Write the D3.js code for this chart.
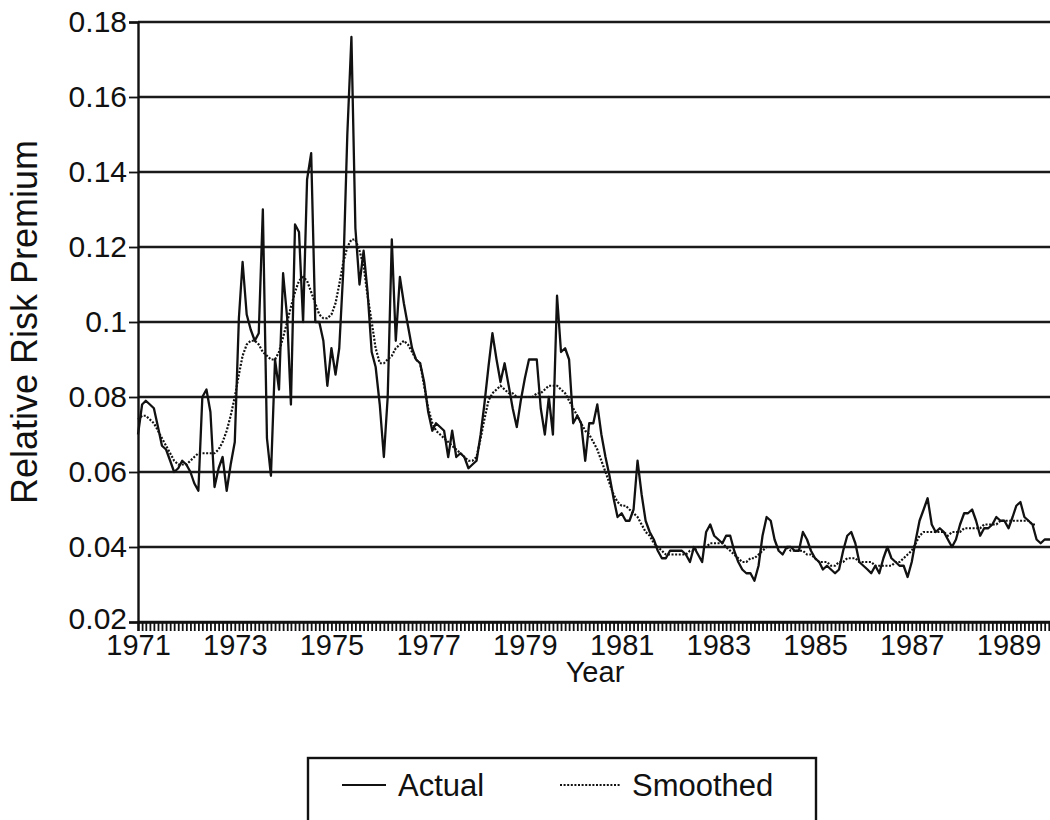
<!DOCTYPE html>
<html>
<head>
<meta charset="utf-8">
<script src="https://cdn.jsdelivr.net/npm/d3@7"></script>
<style>
  body { margin: 0; background: #fff; }
  text { font-family: "Liberation Sans", Arial, sans-serif; fill: #111; }
</style>
</head>
<body>
<script>

// monthly values, Jan 1971 onwards
var startYear = 1971;

var actual = [
  0.070, 0.078, 0.079, 0.078, 0.077, 0.072, 0.067, 0.066, 0.063, 0.060, 0.061, 0.063,
  0.062, 0.060, 0.057, 0.055, 0.080, 0.082, 0.076, 0.056, 0.061, 0.064, 0.055, 0.062,
  0.068, 0.101, 0.116, 0.102, 0.098, 0.095, 0.097, 0.130, 0.069, 0.059, 0.090, 0.082,
  0.113, 0.101, 0.078, 0.126, 0.124, 0.100, 0.138, 0.145, 0.100, 0.100, 0.095, 0.083,
  0.093, 0.086, 0.093, 0.114, 0.150, 0.176, 0.125, 0.110, 0.119, 0.108, 0.092, 0.088,
  0.078, 0.064, 0.080, 0.122, 0.095, 0.112, 0.105, 0.099, 0.093, 0.090, 0.089, 0.084,
  0.076, 0.071, 0.073, 0.072, 0.071, 0.064, 0.071, 0.064, 0.065, 0.064, 0.061, 0.062,
  0.063, 0.070, 0.078, 0.088, 0.097, 0.090, 0.084, 0.089, 0.083, 0.077, 0.072, 0.079,
  0.085, 0.090, 0.090, 0.090, 0.077, 0.070, 0.080, 0.070, 0.107, 0.092, 0.093, 0.090,
  0.073, 0.075, 0.073, 0.063, 0.073, 0.073, 0.078, 0.070, 0.064, 0.059, 0.053, 0.048,
  0.049, 0.047, 0.047, 0.050, 0.063, 0.054, 0.047, 0.044, 0.042, 0.039, 0.037, 0.037,
  0.039, 0.039, 0.039, 0.039, 0.038, 0.036, 0.040, 0.038, 0.036, 0.044, 0.046, 0.043,
  0.042, 0.041, 0.043, 0.043, 0.039, 0.036, 0.034, 0.033, 0.033, 0.031, 0.035, 0.043,
  0.048, 0.047, 0.042, 0.039, 0.038, 0.040, 0.040, 0.039, 0.039, 0.044, 0.042, 0.039,
  0.037, 0.036, 0.034, 0.035, 0.034, 0.033, 0.034, 0.039, 0.043, 0.044, 0.041, 0.036,
  0.035, 0.034, 0.033, 0.035, 0.033, 0.037, 0.040, 0.037, 0.036, 0.035, 0.035, 0.032,
  0.036, 0.042, 0.047, 0.050, 0.053, 0.046, 0.044, 0.045, 0.044, 0.042, 0.040, 0.042,
  0.046, 0.049, 0.049, 0.050, 0.047, 0.043, 0.045, 0.045, 0.046, 0.048, 0.047, 0.047,
  0.045, 0.048, 0.051, 0.052, 0.048, 0.047, 0.046, 0.042, 0.041, 0.042, 0.042, 0.042
];

var smoothed = [
  0.074, 0.075, 0.075, 0.074, 0.073, 0.071, 0.069, 0.067, 0.065, 0.063, 0.062, 0.062,
  0.062, 0.063, 0.064, 0.065, 0.065, 0.065, 0.065, 0.065, 0.066, 0.068, 0.071, 0.075,
  0.080, 0.086, 0.091, 0.094, 0.095, 0.095, 0.094, 0.092, 0.091, 0.090, 0.090, 0.092,
  0.096, 0.100, 0.104, 0.108, 0.111, 0.112, 0.111, 0.108, 0.105, 0.102, 0.101, 0.101,
  0.102, 0.105, 0.110, 0.116, 0.120, 0.122, 0.122, 0.119, 0.115, 0.107, 0.100, 0.093,
  0.089, 0.089, 0.090, 0.091, 0.093, 0.094, 0.095, 0.094, 0.092, 0.090, 0.089, 0.083,
  0.077, 0.073, 0.071, 0.070, 0.069, 0.068, 0.067, 0.066, 0.065, 0.064, 0.063, 0.063,
  0.064, 0.069, 0.074, 0.079, 0.081, 0.082, 0.083, 0.082, 0.081, 0.081, 0.080, 0.080,
  0.080, 0.080, 0.080, 0.081, 0.081, 0.082, 0.083, 0.083, 0.083, 0.082, 0.081, 0.079,
  0.077, 0.075, 0.073, 0.071, 0.070, 0.068, 0.066, 0.063, 0.060, 0.057, 0.054, 0.052,
  0.051, 0.051, 0.050, 0.049, 0.048, 0.046, 0.044, 0.043, 0.041, 0.040, 0.039, 0.038,
  0.038, 0.038, 0.038, 0.038, 0.038, 0.039, 0.039, 0.040, 0.040, 0.040, 0.041, 0.041,
  0.041, 0.041, 0.040, 0.039, 0.038, 0.037, 0.036, 0.036, 0.037, 0.037, 0.038, 0.039,
  0.040, 0.040, 0.040, 0.040, 0.040, 0.040, 0.039, 0.039, 0.039, 0.039, 0.038, 0.038,
  0.037, 0.036, 0.036, 0.036, 0.035, 0.035, 0.036, 0.036, 0.037, 0.037, 0.037, 0.036,
  0.036, 0.036, 0.036, 0.035, 0.035, 0.035, 0.035, 0.035, 0.036, 0.036, 0.037, 0.038,
  0.039, 0.041, 0.043, 0.044, 0.044, 0.044, 0.044, 0.044, 0.044, 0.043, 0.044, 0.044,
  0.044, 0.045, 0.045, 0.045, 0.045, 0.045, 0.046, 0.046, 0.046, 0.046, 0.047, 0.047,
  0.047, 0.047, 0.047, 0.047, 0.047, 0.047, 0.046, 0.046
];

var yTicks = [0.02, 0.04, 0.06, 0.08, 0.1, 0.12, 0.14, 0.16, 0.18];
var yearLabels = [1971, 1973, 1975, 1977, 1979, 1981, 1983, 1985, 1987, 1989];
var legendItems = ["Actual", "Smoothed"];

// canvas
var W = 1050, H = 820;
var margin = {top: 22, left: 138},
    monthW = 4.03,
    plotBottom = 622;

var svg = d3.select("body").append("svg")
    .attr("width", W)
    .attr("height", H);

function monthDate(i) { return new Date(startYear, i, 1); }

var x = d3.scaleTime()
    .domain([monthDate(0), monthDate(228)])
    .range([margin.left, margin.left + 228 * monthW]);

var y = d3.scaleLinear()
    .domain([0.02, 0.18])
    .range([plotBottom, margin.top]);

// gridlines
svg.append("g")
  .selectAll("line")
  .data(yTicks)
  .enter().append("line")
    .attr("x1", margin.left)
    .attr("x2", W)
    .attr("y1", function(d) { return y(d); })
    .attr("y2", function(d) { return y(d); })
    .attr("stroke", "#1a1a1a")
    .attr("stroke-width", 2.4);

// y axis
var yAxis = svg.append("g")
    .attr("transform", "translate(" + margin.left + ",0)")
    .call(d3.axisLeft(y).tickValues(yTicks).tickSize(9).tickPadding(2)
      .tickFormat(function(d) { return d3.format("")(+d.toFixed(2)); }));
yAxis.select(".domain").attr("stroke", "#111").attr("stroke-width", 2.4);
yAxis.selectAll(".tick line").attr("stroke", "#111").attr("stroke-width", 1.8);
yAxis.selectAll("text").attr("font-size", 30).attr("fill", "#111");
// lowest label sits a touch higher so it clears the year labels
yAxis.selectAll(".tick text").filter(function(d) { return d === 0.02; }).attr("dy", "0.2em");

// x axis with monthly ticks
var xAxis = svg.append("g")
    .attr("transform", "translate(0," + plotBottom + ")")
    .call(d3.axisBottom(x)
      .ticks(d3.timeMonth.every(1))
      .tickSize(9)
      .tickPadding(3)
      .tickFormat(function(d) {
        return (d.getMonth() === 0 && yearLabels.indexOf(d.getFullYear()) >= 0) ? d.getFullYear() : "";
      }));
xAxis.select(".domain").attr("stroke", "#111").attr("stroke-width", 2.4);
xAxis.selectAll(".tick line").attr("stroke", "#111").attr("stroke-width", 1.8);
xAxis.selectAll("text").attr("font-size", 29).attr("fill", "#111");

// axis titles
svg.append("text")
    .attr("transform", "translate(37," + ((margin.top + plotBottom) / 2) + ") rotate(-90)")
    .attr("text-anchor", "middle")
    .attr("font-size", 36)
    .text("Relative Risk Premium");

svg.append("text")
    .attr("x", 595)
    .attr("y", 682)
    .attr("text-anchor", "middle")
    .attr("font-size", 29)
    .text("Year");

// series lines
var line = d3.line()
    .x(function(d, i) { return x(monthDate(i)); })
    .y(function(d) { return y(d); });

svg.append("path")
    .datum(smoothed)
    .attr("fill", "none")
    .attr("stroke", "#111")
    .attr("stroke-width", 2.2)
    .attr("stroke-dasharray", "2,1.6")
    .attr("d", line);

svg.append("path")
    .datum(actual)
    .attr("fill", "none")
    .attr("stroke", "#111")
    .attr("stroke-width", 2.3)
    .attr("stroke-linejoin", "round")
    .attr("d", line);

// legend
var legend = svg.append("g");
legend.append("rect")
    .attr("x", 308)
    .attr("y", 758)
    .attr("width", 508)
    .attr("height", 80)
    .attr("fill", "none")
    .attr("stroke", "#111")
    .attr("stroke-width", 2.4);

var li = legend.selectAll(".item")
    .data(legendItems)
  .enter().append("g")
    .attr("class", "item")
    .attr("transform", function(d, i) { return "translate(" + (i ? 560 : 342) + ",785)"; });

li.append("line")
    .attr("x1", 0)
    .attr("x2", function(d, i) { return i ? 60 : 44; })
    .attr("stroke", "#111")
    .attr("stroke-width", 2.2)
    .attr("stroke-dasharray", function(d, i) { return i ? "2,1.6" : null; });

li.append("text")
    .attr("x", function(d, i) { return i ? 72 : 56; })
    .attr("dy", "0.35em")
    .attr("font-size", 31)
    .text(function(d) { return d; });

</script>
</body>
</html>
